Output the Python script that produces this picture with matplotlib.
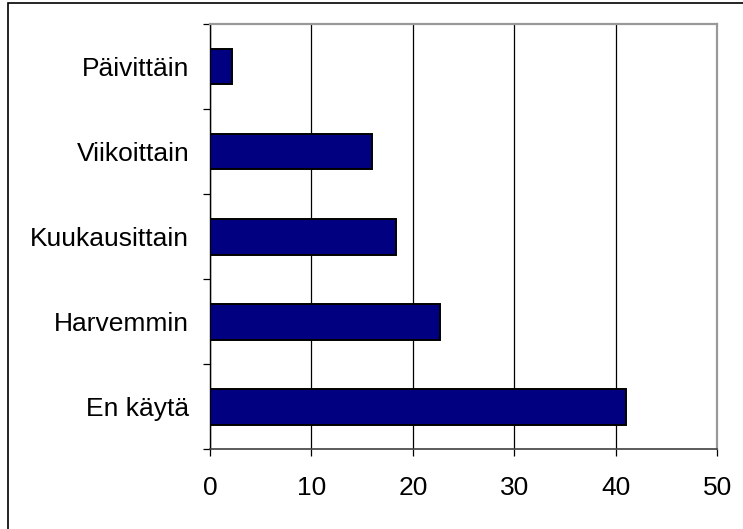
import numpy as np
import matplotlib
matplotlib.use("Agg")
import matplotlib.pyplot as plt
from matplotlib.patches import Rectangle

# data
categories = ["Päivittäin", "Viikoittain", "Kuukausittain", "Harvemmin", "En käytä"]
values = [2.2, 16.0, 18.3, 22.7, 41.0]
xticks = [0, 10, 20, 30, 40, 50]

plt.rcParams['font.family'] = ['Liberation Sans', 'DejaVu Sans']

fig = plt.figure(figsize=(7.43, 5.29), dpi=100)
ax = fig.add_axes([210/743, 1-449.3/529, (717.3-210)/743, (449.3-24)/529])

y = np.arange(len(categories))
ax.barh(y, values, height=0.42, color='#000080', edgecolor='black', linewidth=1.4, zorder=3)

ax.set_xlim(0, 50)
ax.set_ylim(len(categories)-0.5, -0.5)
ax.set_xticks(xticks)
ax.set_xticklabels([str(t) for t in xticks])
ax.set_yticks(y)
ax.set_yticklabels(categories)
ax.set_yticks(np.arange(len(categories)+1)-0.5, minor=True)

ax.xaxis.grid(True, color='black', linewidth=0.9, zorder=0)
ax.set_axisbelow(True)

ax.tick_params(axis='y', which='major', length=0, pad=15, labelsize=19)
ax.tick_params(axis='y', which='minor', length=5, width=0.9, color='black')
ax.tick_params(axis='x', length=5, width=0.9, color='black', pad=14, labelsize=19)

ax.spines['left'].set_color('black')
ax.spines['left'].set_linewidth(1.0)
ax.spines['bottom'].set_color('#404040')
ax.spines['bottom'].set_linewidth(1.2)
ax.spines['top'].set_color('#999999')
ax.spines['top'].set_linewidth(1.6)
ax.spines['right'].set_color('#999999')
ax.spines['right'].set_linewidth(1.6)

# outer chart frame (clipped at right and bottom)
fig.patches.append(Rectangle((8/743, -0.1), 1.1, (1-3/529)+0.1, transform=fig.transFigure,
                             fill=False, edgecolor='black', linewidth=1.2))

fig.savefig("out.png", dpi=100)
